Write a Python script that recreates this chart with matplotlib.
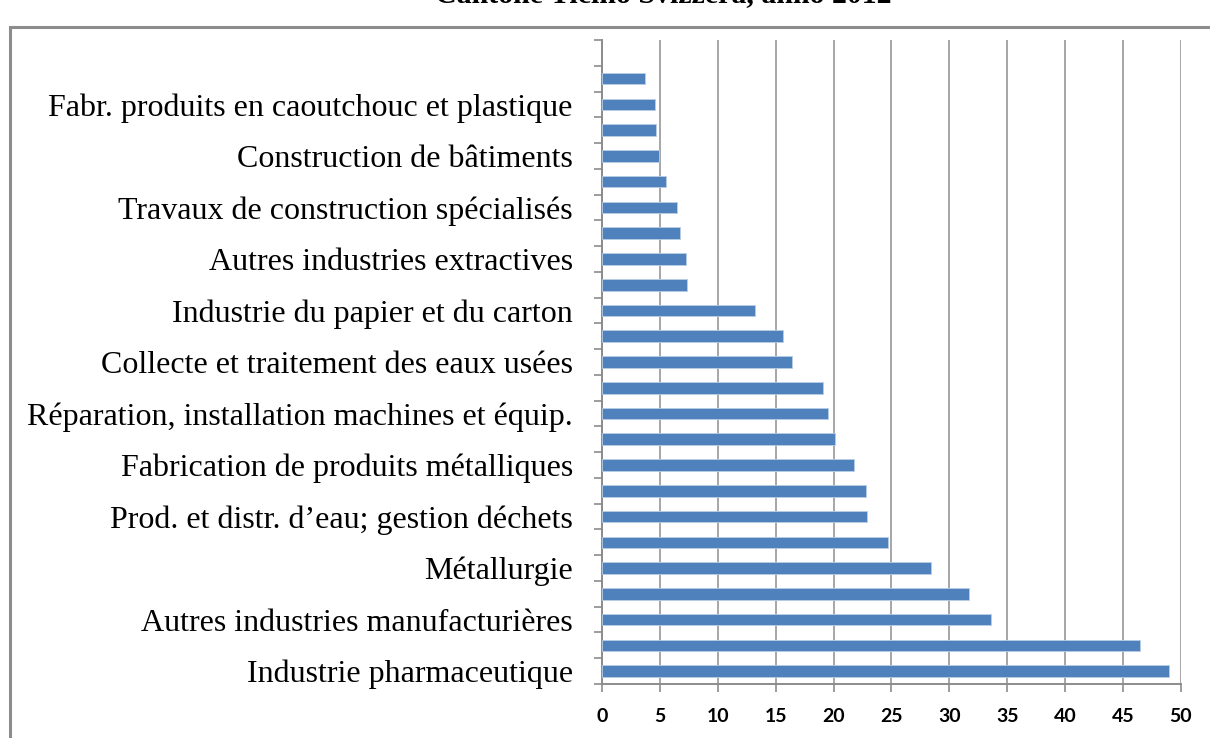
import numpy as np
import matplotlib
matplotlib.use("Agg")
import matplotlib.pyplot as plt
from matplotlib.patches import Rectangle

# data, bottom to top (Excel only shows every second label)
labels = [
    "Industrie pharmaceutique", "",
    "Autres industries manufacturières", "",
    "Métallurgie", "",
    "Prod. et distr. d\u2019eau; gestion déchets", "",
    "Fabrication de produits métalliques", "",
    "Réparation, installation machines et équip.", "",
    "Collecte et traitement des eaux usées", "",
    "Industrie du papier et du carton", "",
    "Autres industries extractives", "",
    "Travaux de construction spécialisés", "",
    "Construction de bâtiments", "",
    "Fabr. produits en caoutchouc et plastique", "",
]
values = [49.0, 46.5, 33.6, 31.7, 28.4, 24.7, 22.9, 22.8, 21.8, 20.1,
          19.5, 19.05, 16.4, 15.6, 13.2, 7.34, 7.23, 6.77, 6.45, 5.57,
          4.96, 4.7, 4.6, 3.7]
title = "Cantone Ticino Svizzera, anno 2012"
n_slots = 25  # one empty slot on top

fig = plt.figure(figsize=(12.1, 7.38), dpi=100)
ax = fig.add_axes([0.4975, 0.0732, 0.976 - 0.4975, 0.9458 - 0.0732])

# outer chart frame (cut by the image border)
fig.patches.append(Rectangle((10 / 1210, -0.1), 1.2, 1 - 27 / 738 + 0.1,
                             transform=fig.transFigure, fill=False,
                             edgecolor="#8c8c8c", linewidth=2.2))

y = np.arange(len(values))
ax.barh(y, values, height=0.45, color="#4F81BD", edgecolor="#b9cde5",
        linewidth=0.6, zorder=3)

ax.set_xlim(0, 50)
ax.set_ylim(-0.5, n_slots - 0.5)
ax.set_xticks(np.arange(0, 51, 5))
ax.xaxis.grid(True, color="#a6a6a6", linewidth=1.4, zorder=0)

ax.set_yticks(y)
ax.set_yticklabels(labels, fontfamily="Liberation Serif", fontsize=23)
ax.set_yticks(np.arange(-0.5, n_slots, 1.0), minor=True)
ax.tick_params(axis="y", which="major", length=0, pad=21)
ax.tick_params(axis="y", which="minor", length=6, width=1.2, color="#8c8c8c",
               direction="out")
ax.tick_params(axis="x", length=6, width=1.2, color="#8c8c8c",
               direction="out", pad=11)
for t in ax.get_xticklabels():
    t.set_fontfamily("Lato")
    t.set_fontsize(14)
    t.set_fontweight("bold")

for s in ["top", "right"]:
    ax.spines[s].set_visible(False)
for s in ["left", "bottom"]:
    ax.spines[s].set_color("#8c8c8c")
    ax.spines[s].set_linewidth(1.4)

# title sits mostly above the image edge, as in the reference
fig.text(663 / 1210, 1 - 2.5 / 738, title, ha="center", va="baseline",
         fontfamily="Liberation Serif", fontweight="bold", fontsize=21.5)

fig.savefig("out.png", dpi=100)
